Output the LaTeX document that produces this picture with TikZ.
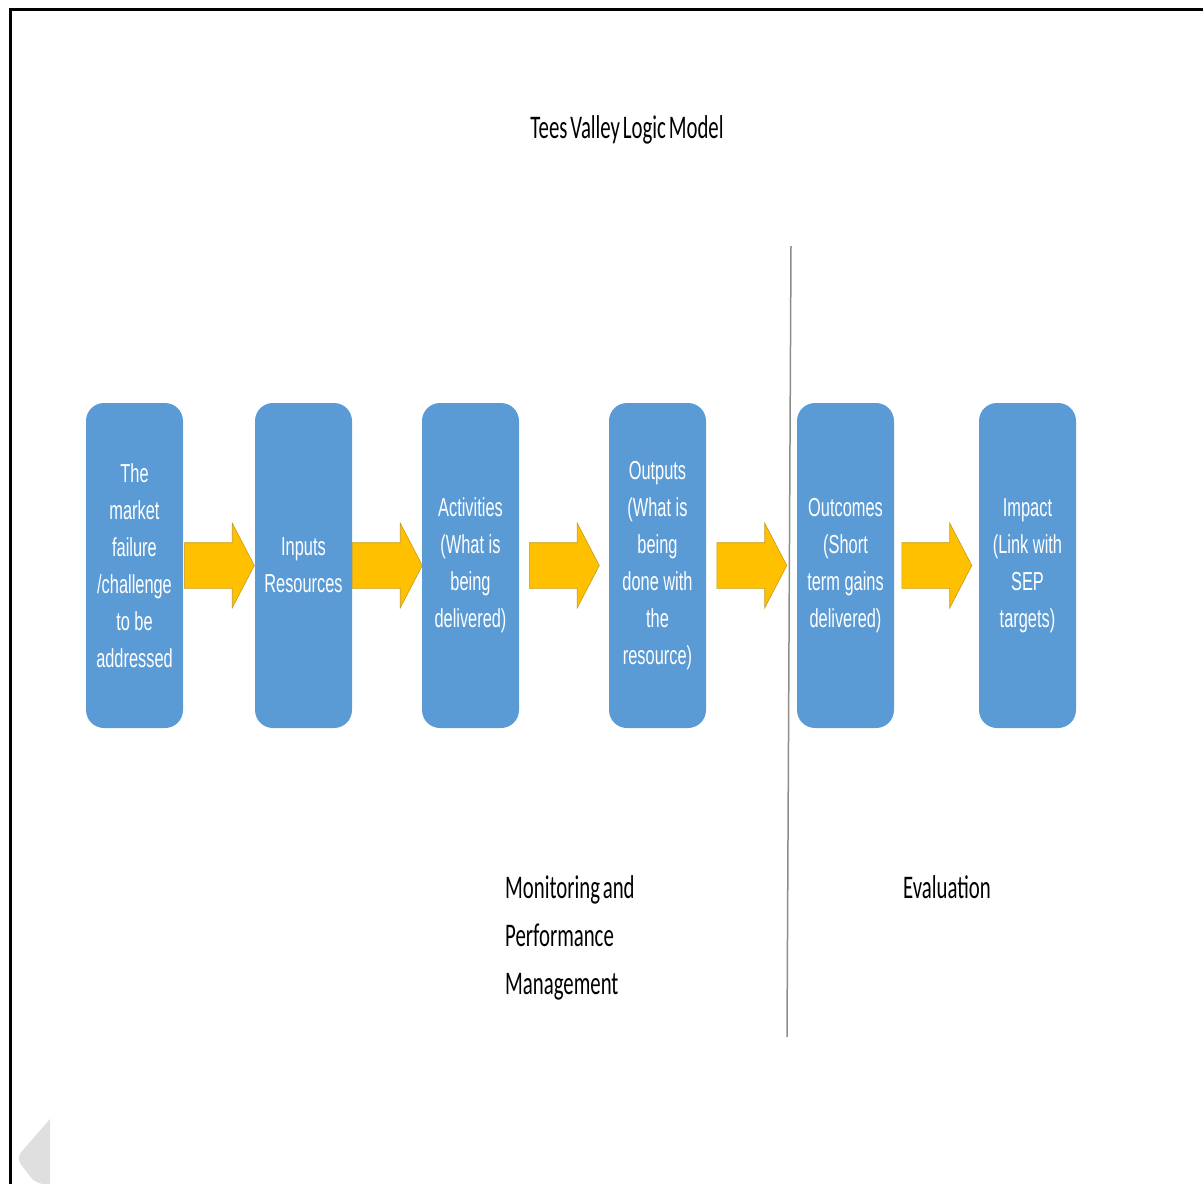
\documentclass[tikz,border=0pt]{standalone}
\usepackage{fontspec}
\usetikzlibrary{positioning,calc,shapes.arrows}
\newfontfamily\boxfont[FakeStretch=0.63]{Liberation Sans}
\newfontfamily\labelfont[FakeStretch=0.63, WordSpace=0.6]{Carlito}
\definecolor{stageblue}{HTML}{5B9BD5}
\definecolor{arrowgold}{HTML}{FFC000}
\definecolor{arrowedge}{HTML}{C59A1A}
\definecolor{dividergray}{HTML}{8C8C8C}

\tikzstyle {stage} = [fill=stageblue, rounded corners=18pt, minimum width=97pt, minimum height=325pt, text width=92pt, align=flush center, inner sep=0pt, outer sep=0pt, text=white, font=\boxfont\fontsize{26}{37}\selectfont]
\tikzstyle {flowarrow} = [single arrow, fill=arrowgold, draw=arrowedge, line width=0.6pt, minimum height=70pt, inner xsep=0pt, inner ysep=22.5pt, single arrow head extend=19.5pt, single arrow tip angle=125, anchor=tail]
\tikzstyle {caption} = [font=\labelfont\fontsize{33}{48}\selectfont, inner sep=0pt, align=left]

\begin{document}
\begin{tikzpicture}[x=1pt, y=-1pt]
    \useasboundingbox (0,0) rectangle (1203,1184);
    \draw [line width=3pt] (10,1184) -- (10,9.5) -- (1203,9.5);
    \fill [gray!25] (50,1119) [rounded corners=8pt] -- (16,1158) -- (36,1184) [sharp corners] -- (50,1184) -- cycle;

    \node (title) at (627,130) [caption] {Tees Valley Logic Model};

    \coordinate (divtop) at (791,246);
    \coordinate (divbot) at (787,1037);
    \draw [dividergray, line width=1.5pt] (divtop) -- (divbot);

    \node (failure) at (134.5,565.5) [stage] {The\\market\\failure\\/challenge\\to be\\addressed};
    \node (inputs) [stage, right=72pt of failure] {Inputs\\Resources};
    \node (activities) [stage, right=70pt of inputs] {Activities\\(What is\\being\\delivered)};
    \node (outputs) [stage, right=90pt of activities] {Outputs\\(What is\\being\\done with\\the\\resource)};
    \node (outcomes) [stage, right=91pt of outputs] {Outcomes\\(Short\\term gains\\delivered)};
    \node (impact) [stage, right=85pt of outcomes] {Impact\\(Link with\\SEP\\targets)};

    \foreach \from/\to in {failure/inputs, inputs/activities, activities/outputs, outputs/outcomes, outcomes/impact}
        \node (\from-arrow) [flowarrow] at ($(\from.east)!0.5!(\to.west) + (-35pt,0)$) {};

    \node (monitoring) at (505,875) [caption, anchor=north west] {Monitoring and\\Performance\\Management};
    \node (evaluation) at (903,898) [caption, anchor=base west] {Evaluation};
\end{tikzpicture}
\end{document}
